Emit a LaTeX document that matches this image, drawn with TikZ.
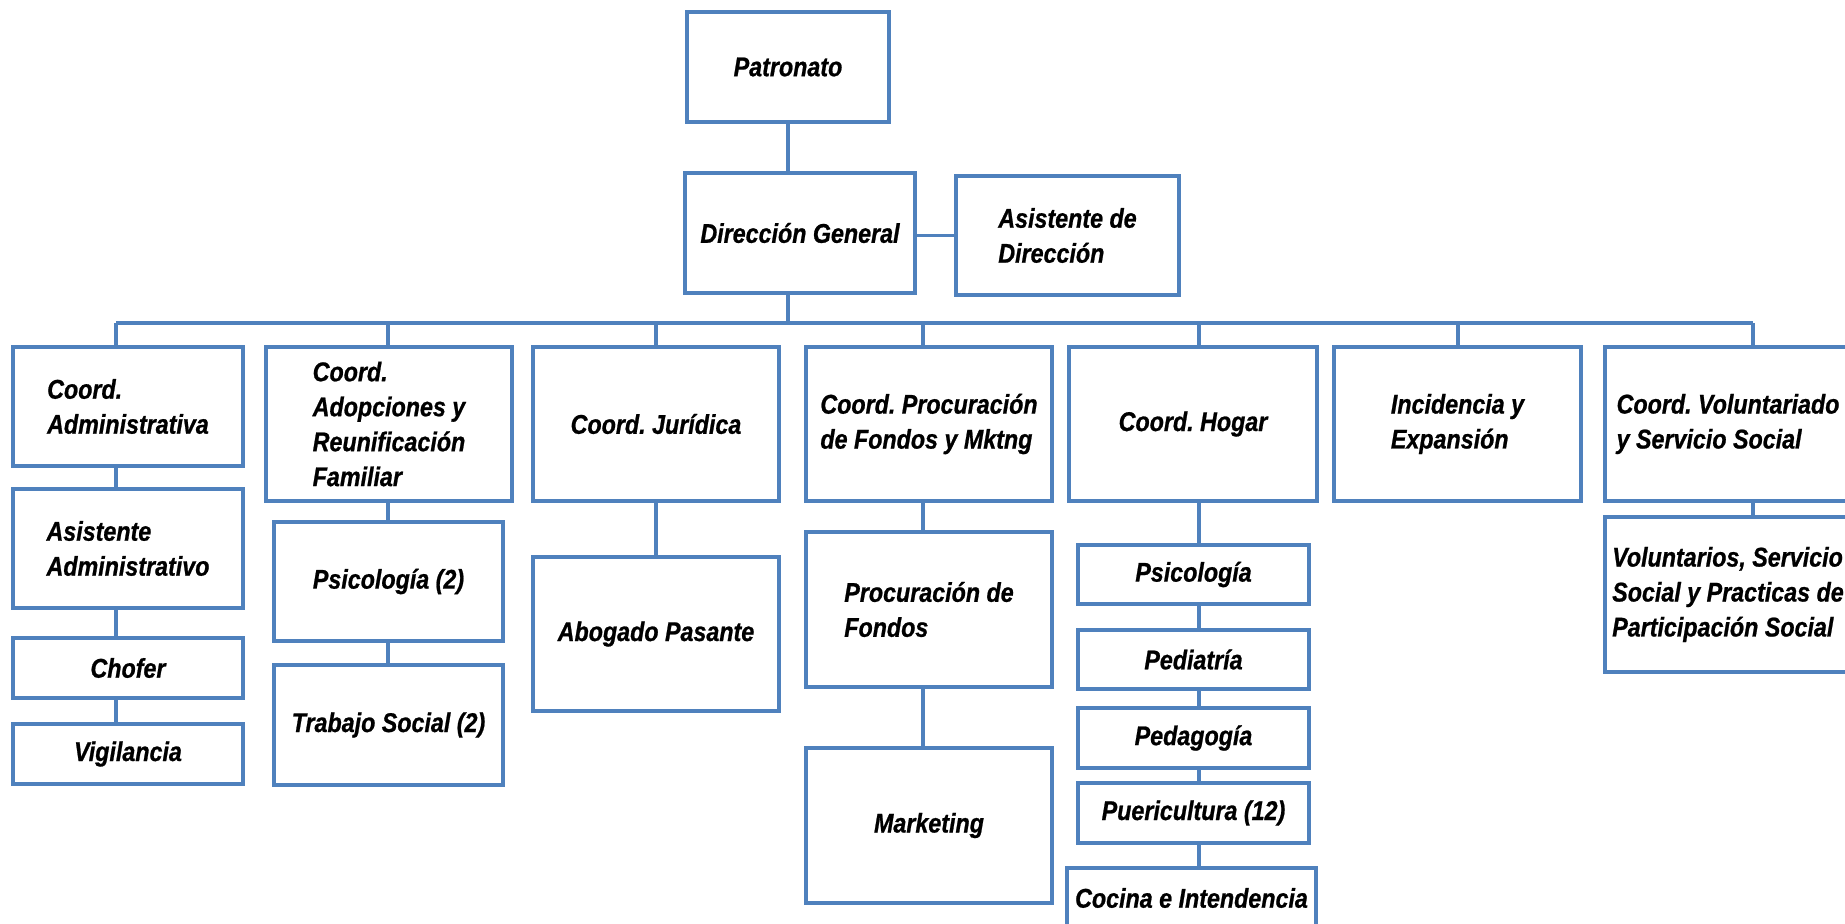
\documentclass[tikz,border=0pt]{standalone}
\usepackage{fontspec}
\setmainfont{Liberation Sans}[FakeStretch=0.86, BoldItalicFeatures={FakeBold=0.8}]
\definecolor{lineblue}{RGB}{79,129,189}
\begin{document}
\frenchspacing
\begin{tikzpicture}[x=0.02cm,y=-0.02cm,
  box/.style={draw=lineblue, line width=1.8pt, fill=white, inner sep=0pt, align=center,
    font=\fontsize{15.4pt}{19.9pt}\selectfont\bfseries\itshape},
  wh/.style 2 args={minimum width=#1*0.02cm, minimum height=#2*0.02cm},
  conn/.style={draw=lineblue, line width=1.8pt}]
\useasboundingbox (0,0) rectangle (1845,923);
\clip (0,0) rectangle (1845,923);
% bus coordinates
\coordinate (bL) at (116,323);
\coordinate (bR) at (1753,323);
\coordinate (d1) at (116,323);
\coordinate (d2) at (388,323);
\coordinate (d3) at (656,323);
\coordinate (d4) at (923,323);
\coordinate (d5) at (1199,323);
\coordinate (d6) at (1458,323);
\coordinate (d7) at (1753,323);
% top
\node[box, wh={202}{110}] (patr) at (788,67) {Patronato};
\node[box, wh={230}{120}] (dg) at (800,233) {Dirección General};
\node[box, wh={223}{119}, align=left] (asd) at (1067.5,235.5) {Asistente de\\Dirección};
% level 1
\node[box, wh={230}{119}, align=left] (adm) at (128,406.5) {Coord.\\Administrativa};
\node[box, wh={246}{154}, align=left] (ado) at (389,424) {Coord.\\Adopciones y\\Reunificación\\Familiar};
\node[box, wh={246}{154}] (jur) at (656,424) {Coord. Jurídica};
\node[box, wh={246}{154}, align=left] (pro) at (929,424) {Coord. Procuración\\de Fondos y Mktng};
\node[box, wh={248}{154}] (hog) at (1193,424) {Coord. Hogar};
\node[box, wh={247}{154}, align=left] (inc) at (1457.5,424) {Incidencia y\\Expansión};
\node[box, wh={246}{154}, align=left] (vol) at (1728,424) {Coord. Voluntariado\\y Servicio Social};
% admin column
\node[box, wh={230}{119}, align=left] (asa) at (128,548.5) {Asistente\\Administrativo};
\node[box, wh={230}{60}] (cho) at (128,668) {Chofer};
\node[box, wh={230}{60}] (vig) at (128,754) {Vigilancia};
% adopciones column
\node[box, wh={229}{119}] (psi2) at (388.5,581.5) {Psicología (2)};
\node[box, wh={229}{120}] (tra2) at (388.5,725) {Trabajo Social (2)};
% juridica
\node[box, wh={246}{154}] (abo) at (656,634) {Abogado Pasante};
% procuracion
\node[box, wh={246}{155}, align=left] (pfo) at (929,609.5) {Procuración de\\Fondos};
\node[box, wh={246}{155}] (mkt) at (929,825.5) {Marketing};
% hogar
\node[box, wh={231}{59}] (hpsi) at (1193.5,574.5) {Psicología};
\node[box, wh={231}{59}] (hped) at (1193.5,659.5) {Pediatría};
\node[box, wh={231}{60}] (hpeda) at (1193.5,738) {Pedagogía};
\node[box, wh={231}{60}] (hpue) at (1193.5,813) {Puericultura (12)};
\node[box, wh={249}{60}] (hcoc) at (1191.5,898) {Cocina e Intendencia};
% voluntariado
\node[box, wh={246}{155}, align=left] (vols) at (1728,594.5) {Voluntarios, Servicio\\Social y Practicas de\\Participación Social};
% connectors
\draw[conn] (patr.south) -- (dg.north -| patr.south);
\draw[conn] (dg.south -| patr.south) -- (bL -| patr.south);
\draw[conn] (dg.east |- asd.west) -- (asd.west);
\draw[conn] (bL) -- (bR);
\draw[conn] (d1) -- (d1 |- adm.north);
\draw[conn] (d2) -- (d2 |- ado.north);
\draw[conn] (d3) -- (d3 |- jur.north);
\draw[conn] (d4) -- (d4 |- pro.north);
\draw[conn] (d5) -- (d5 |- hog.north);
\draw[conn] (d6) -- (d6 |- inc.north);
\draw[conn] (d7) -- (d7 |- vol.north);
\draw[conn] (d1 |- adm.south) -- (d1 |- asa.north);
\draw[conn] (d1 |- asa.south) -- (d1 |- cho.north);
\draw[conn] (d1 |- cho.south) -- (d1 |- vig.north);
\draw[conn] (d2 |- ado.south) -- (d2 |- psi2.north);
\draw[conn] (d2 |- psi2.south) -- (d2 |- tra2.north);
\draw[conn] (d3 |- jur.south) -- (d3 |- abo.north);
\draw[conn] (d4 |- pro.south) -- (d4 |- pfo.north);
\draw[conn] (d4 |- pfo.south) -- (d4 |- mkt.north);
\draw[conn] (d5 |- hog.south) -- (d5 |- hpsi.north);
\draw[conn] (d5 |- hpsi.south) -- (d5 |- hped.north);
\draw[conn] (d5 |- hped.south) -- (d5 |- hpeda.north);
\draw[conn] (d5 |- hpeda.south) -- (d5 |- hpue.north);
\draw[conn] (d5 |- hpue.south) -- (d5 |- hcoc.north);
\draw[conn] (d7 |- vol.south) -- (d7 |- vols.north);
\end{tikzpicture}
\end{document}
